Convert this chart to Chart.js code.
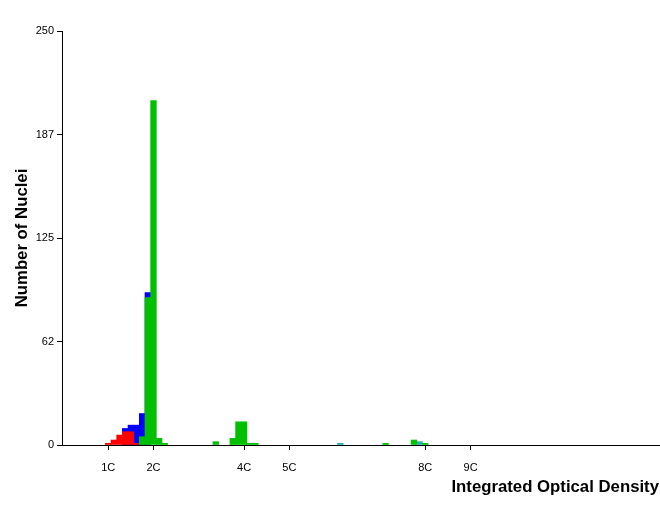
<!DOCTYPE html>
<html>
<head>
<meta charset="utf-8">
<script src="https://cdn.jsdelivr.net/npm/chart.js@4.4.1/dist/chart.umd.min.js"></script>
<style>
  html, body { margin: 0; padding: 0; background: #ffffff; }
  #wrap { width: 660px; height: 509px; position: relative; }
</style>
</head>
<body>
<div id="wrap"><canvas id="c" width="660" height="509"></canvas></div>
<script>
// Bin centres are in units of C (bin width 0.125 C)
const redBins    = [1.0, 1.125, 1.25, 1.375, 1.5, 1.625];
const redCounts  = [1, 3, 6, 8, 8, 1];

const blueBins   = [1.375, 1.5, 1.625, 1.75, 1.875];
const blueCounts = [10, 12, 12, 19, 92];

const greenBins   = [1.75, 1.875, 2.0, 2.125, 2.25, 3.375, 3.75, 3.875, 4.0, 4.125, 4.25, 7.125, 7.75, 8.0];
const greenCounts = [5, 89, 208, 4, 1, 2, 4, 14, 14, 1, 1, 1, 3, 1];

const cyanBins   = [6.125, 7.875];
const cyanCounts = [1, 2];

const xTickValues = [1, 2, 4, 5, 8, 9];
const yTickValues = [0, 62.5, 125, 187.5, 250];

const xTitle = 'Integrated Optical Density';
const yTitle = 'Number of Nuclei';

function pts(xs, ys) { return xs.map((x, i) => ({ x: x, y: ys[i] })); }

const FONT = "'Liberation Sans', Arial, sans-serif";

const common = { grouped: false, borderWidth: 0, barPercentage: 1, categoryPercentage: 1 };

new Chart(document.getElementById('c'), {
  type: 'bar',
  data: {
    datasets: [
      Object.assign({ label: 'green', data: pts(greenBins, greenCounts), backgroundColor: '#00c000' }, common),
      Object.assign({ label: 'cyan',  data: pts(cyanBins, cyanCounts),   backgroundColor: '#20b0b0' }, common),
      Object.assign({ label: 'red',   data: pts(redBins, redCounts),     backgroundColor: '#ff0000' }, common),
      Object.assign({ label: 'blue',  data: pts(blueBins, blueCounts),   backgroundColor: '#0000ff' }, common)
    ]
  },
  options: {
    responsive: false,
    animation: false,
    layout: { padding: { top: 31, right: 1, left: 0, bottom: 0 } },
    plugins: { legend: { display: false }, tooltip: { enabled: false } },
    scales: {
      x: {
        type: 'linear',
        min: -0.02,
        max: 13.16,
        offset: false,
        afterFit: (s) => { s.height = 64; },
        afterBuildTicks: (s) => { s.ticks = xTickValues.map(v => ({ value: v })); },
        grid: { display: true, offset: false, drawOnChartArea: false, drawTicks: true, tickLength: 5, color: '#000000', tickColor: '#000000' },
        border: { display: true, color: '#000000', width: 1 },
        ticks: {
          color: '#000000',
          font: { family: FONT, size: 11 },
          padding: 11,
          maxRotation: 0,
          autoSkip: false,
          callback: (v) => v + 'C'
        },
        title: {
          display: true,
          text: xTitle,
          align: 'end',
          color: '#000000',
          font: { family: FONT, size: 16.75, weight: 'bold' },
          padding: { top: 0, bottom: 12 }
        }
      },
      y: {
        min: 0,
        max: 250,
        afterFit: (s) => { s.width = 62; },
        afterBuildTicks: (s) => { s.ticks = yTickValues.map(v => ({ value: v })); },
        grid: { display: true, offset: false, drawOnChartArea: false, drawTicks: true, tickLength: 5, color: '#000000', tickColor: '#000000' },
        border: { display: true, color: '#000000', width: 1 },
        ticks: {
          color: '#000000',
          font: { family: FONT, size: 11 },
          padding: 3,
          autoSkip: false,
          callback: (v) => String(Math.floor(v))
        },
        title: {
          display: true,
          text: yTitle,
          color: '#000000',
          font: { family: FONT, size: 16.75, weight: 'bold' },
          padding: { top: 12, bottom: 0 }
        }
      }
    }
  }
});
</script>
</body>
</html>
